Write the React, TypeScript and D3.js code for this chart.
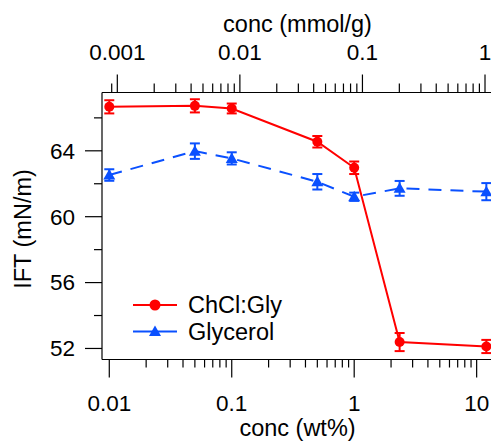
import React from "react";
import * as d3 from "d3";

const concWt = [0.01, 0.05, 0.1, 0.5, 1, 2.35, 12];
const chclGly = [66.67, 66.73, 66.57, 64.55, 62.97, 52.39, 52.12];
const chclGlyErr = [0.4, 0.4, 0.3, 0.35, 0.38, 0.55, 0.4];
const glycerol = [62.53, 63.98, 63.54, 62.12, 61.21, 61.72, 61.52];
const glycerolErr = [0.35, 0.47, 0.37, 0.47, 0.25, 0.45, 0.52];
const yTicks = [52, 56, 60, 64];
const yMinorTicks = [54, 58, 62, 66];
const bottomLabels = [0.01, 0.1, 1, 10];
const topLabels = [0.001, 0.01, 0.1, 1];
const seriesNames = ["ChCl:Gly", "Glycerol"];

const W = 491;
const H = 443;
const L = 102;
const R = 493;
const T = 92.5;
const B = 359.5;
const RED = "#ff0000";
const BLUE = "#0a50ff";
const FONT = "Liberation Sans, Arial, Helvetica, sans-serif";

function fmt(v: number) {
  return String(+v.toPrecision(3));
}

function minorTicks(scale: d3.ScaleLogarithmic<number, number>) {
  const [a, b] = scale.domain();
  const out: { v: number; major: boolean }[] = [];
  for (let e = Math.floor(Math.log10(a)); e <= Math.ceil(Math.log10(b)); e++) {
    for (let m = 1; m <= 9; m++) {
      const v = m * Math.pow(10, e);
      const p = scale(v);
      if (p >= L + 5 && p <= R) out.push({ v, major: m === 1 });
    }
  }
  return out;
}

export default function App() {
  const x = d3.scaleLog().domain([0.00872, 13.6]).range([L, R]);
  const xTop = d3.scaleLog().domain([0.00075, 1.162]).range([L, R]);
  const y = d3.scaleLinear().domain([51.33, 67.54]).range([B, T]);

  const line = d3
    .line<number>()
    .x((_, i) => x(concWt[i]))
    .y((d) => y(d));

  const botTicks = minorTicks(x);
  const topTicks = minorTicks(xTop);

  const errBars = (vals: number[], errs: number[], color: string) =>
    vals.map((v, i) => {
      const cx = x(concWt[i]);
      const y1 = y(v + errs[i]);
      const y2 = y(v - errs[i]);
      return (
        <g key={i} stroke={color} strokeWidth={2}>
          <line x1={cx} x2={cx} y1={y1} y2={y2} />
          <line x1={cx - 5} x2={cx + 5} y1={y1} y2={y1} />
          <line x1={cx - 5} x2={cx + 5} y1={y2} y2={y2} />
        </g>
      );
    });

  const tri = (cx: number, cy: number) =>
    `M${cx},${cy - 6}L${cx + 6},${cy + 4.5}L${cx - 6},${cy + 4.5}Z`;

  return (
    <svg
      width={W}
      height={H}
      style={{ position: "absolute", left: 0, top: 0, background: "#fff" }}
      fontFamily={FONT}
    >
      <rect width={W} height={H} fill="#fff" />
      {/* axes lines */}
      <g stroke="#000" strokeWidth={1.2} fill="none">
        <line x1={L} x2={L} y1={T} y2={B} />
        <line x1={L} x2={R} y1={B} y2={B} />
        <line x1={L} x2={R} y1={T} y2={T} />
      </g>
      {/* y ticks */}
      <g stroke="#000" strokeWidth={1.2}>
        {yTicks.map((t) => (
          <line key={t} x1={L - 17} x2={L} y1={y(t)} y2={y(t)} />
        ))}
        {yMinorTicks.map((t) => (
          <line key={t} x1={L - 8} x2={L} y1={y(t)} y2={y(t)} />
        ))}
      </g>
      <g fontSize={22.5} textAnchor="end" fill="#000">
        {yTicks.map((t) => (
          <text key={t} x={75} y={y(t)} dy="0.35em">
            {t}
          </text>
        ))}
      </g>
      <text
        transform={`translate(31,229) rotate(-90)`}
        fontSize={23.5}
        textAnchor="middle"
      >
        IFT (mN/m)
      </text>
      {/* bottom ticks */}
      <g stroke="#000" strokeWidth={1.2}>
        {botTicks.map((t, i) => (
          <line
            key={i}
            x1={x(t.v)}
            x2={x(t.v)}
            y1={B}
            y2={B + (t.major ? 18 : 8)}
          />
        ))}
      </g>
      <g fontSize={22.5} textAnchor="middle">
        {bottomLabels.map((t) => (
          <text key={t} x={x(t)} y={411}>
            {fmt(t)}
          </text>
        ))}
      </g>
      <text x={(L + R) / 2} y={436} fontSize={23.5} textAnchor="middle">
        conc (wt%)
      </text>
      {/* top ticks */}
      <g stroke="#000" strokeWidth={1.2}>
        {topTicks.map((t, i) => (
          <line
            key={i}
            x1={xTop(t.v)}
            x2={xTop(t.v)}
            y1={T}
            y2={T - (t.major ? 18 : 9)}
          />
        ))}
      </g>
      <g fontSize={22.5} textAnchor="middle">
        {topLabels.map((t) => (
          <text key={t} x={xTop(t)} y={60}>
            {fmt(t)}
          </text>
        ))}
      </g>
      <text x={(L + R) / 2} y={31.5} fontSize={23.5} textAnchor="middle">
        conc (mmol/g)
      </text>
      {/* Glycerol series */}
      <path
        d={line(glycerol) || ""}
        fill="none"
        stroke={BLUE}
        strokeWidth={2}
        strokeDasharray="13,9"
      />
      {errBars(glycerol, glycerolErr, BLUE)}
      {glycerol.map((v, i) => (
        <path key={i} d={tri(x(concWt[i]), y(v))} fill={BLUE} />
      ))}
      {/* ChCl:Gly series */}
      <path d={line(chclGly) || ""} fill="none" stroke={RED} strokeWidth={2} />
      {errBars(chclGly, chclGlyErr, RED)}
      {chclGly.map((v, i) => (
        <circle key={i} cx={x(concWt[i])} cy={y(v)} r={5} fill={RED} />
      ))}
      {/* legend */}
      <g>
        <line x1={133} x2={177} y1={305} y2={305} stroke={RED} strokeWidth={2} />
        <circle cx={155} cy={305} r={5.5} fill={RED} />
        <text x={188} y={305} dy="0.35em" fontSize={23.5}>
          {seriesNames[0]}
        </text>
        <line x1={133} x2={177} y1={331.5} y2={331.5} stroke={BLUE} strokeWidth={2} />
        <path d={tri(155, 331.5)} fill={BLUE} />
        <text x={188} y={331.5} dy="0.35em" fontSize={23.5}>
          {seriesNames[1]}
        </text>
      </g>
    </svg>
  );
}
